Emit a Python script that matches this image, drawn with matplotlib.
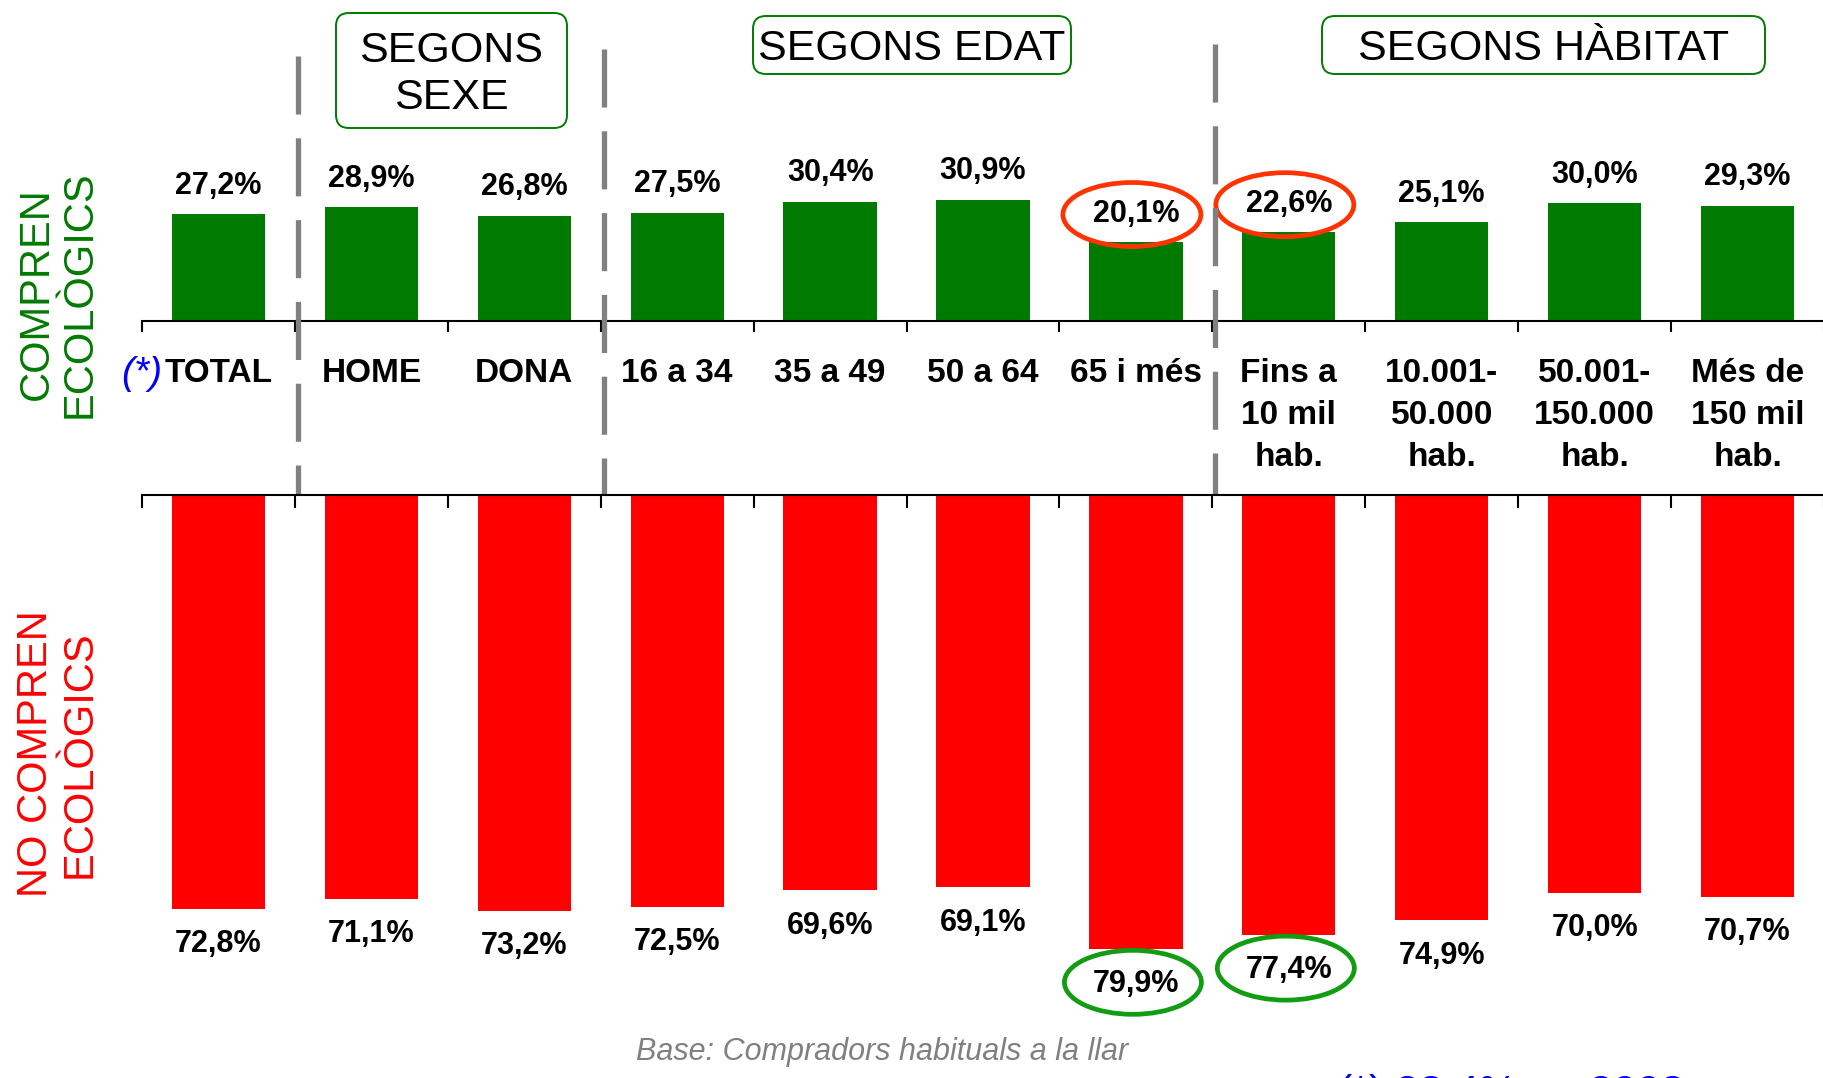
import numpy as np
import matplotlib
matplotlib.use("Agg")
import matplotlib.pyplot as plt
from matplotlib import font_manager
from matplotlib.patches import Ellipse, FancyBboxPatch
from matplotlib.transforms import blended_transform_factory, ScaledTranslation

plt.rcParams['font.family'] = ['Liberation Sans', 'DejaVu Sans']

# data
categories = ["TOTAL", "HOME", "DONA", "16 a 34", "35 a 49", "50 a 64", "65 i més",
              "Fins a\n10 mil\nhab.", "10.001-\n50.000\nhab.", "50.001-\n150.000\nhab.",
              "Més de\n150 mil\nhab."]
compren = [27.2, 28.9, 26.8, 27.5, 30.4, 30.9, 20.1, 22.6, 25.1, 30.0, 29.3]
no_compren = [72.8, 71.1, 73.2, 72.5, 69.6, 69.1, 79.9, 77.4, 74.9, 70.0, 70.7]
highlight_top = [6, 7]      # red circles
highlight_bot = [6, 7]      # green circles
separators = [0.5, 2.5, 6.5]
headers = ["SEGONS\nSEXE", "SEGONS EDAT", "SEGONS HÀBITAT"]


def fmt(v):
    return f"{v:.1f}".replace(".", ",") + "%"


# narrow font if present (labels in the original look condensed)
installed = {f.name for f in font_manager.fontManager.ttflist}
if "Liberation Sans Narrow" in installed:
    NARROW = ["Liberation Sans Narrow", "Liberation Sans"]
    cat_fs, cat_ls, cat_y = 27, 1.39, -0.12
    val_fs = 25
    head_fs, head_ls = 35, 1.14
else:
    NARROW = ["Liberation Sans", "DejaVu Sans"]
    cat_fs, cat_ls, cat_y = 24, 1.45, -0.115
    val_fs = 22
    head_fs, head_ls = 31, 1.25

W, H = 1824, 1078
fig = plt.figure(figsize=(W / 100, H / 100), dpi=100)

GREEN = "#007A00"
RED = "#FF0000"
x = np.arange(len(categories))

# top panel
left = 142 / W
ax_top = fig.add_axes([left, 1 - 321 / H, 1 - left, 321 / H])
ax_top.bar(x, compren, width=0.61, color=GREEN)
ax_top.set_xlim(-0.5, 10.5)
ax_top.set_ylim(0, 321 / 3.93)
for s in ["top", "left", "right"]:
    ax_top.spines[s].set_visible(False)
ax_top.spines["bottom"].set_linewidth(1.5)
ax_top.set_yticks([])
ax_top.set_xticks(np.arange(-0.5, 11, 1))
ax_top.set_xticklabels([])
ax_top.tick_params(axis="x", direction="out", length=8, width=1.5)

# bottom panel
ax_bot = fig.add_axes([left, 0, 1 - left, 1 - 495 / H])
ax_bot.bar(x, no_compren, width=0.61, color=RED)
ax_bot.set_xlim(-0.5, 10.5)
ax_bot.set_ylim(583 / 5.68, 0)
for s in ["bottom", "left", "right"]:
    ax_bot.spines[s].set_visible(False)
ax_bot.spines["top"].set_linewidth(1.5)
ax_bot.set_yticks([])
ax_bot.xaxis.tick_top()
ax_bot.set_xticks(np.arange(-0.5, 11, 1))
ax_bot.set_xticklabels([])
ax_bot.tick_params(axis="x", direction="in", length=9, width=1.5)

# value labels
for i, v in enumerate(compren):
    ax_top.annotate(fmt(v), (i, v), xytext=(0, 20.5), textcoords="offset points",
                    ha="center", va="center", fontsize=val_fs, fontweight="bold", family=NARROW)
for i, v in enumerate(no_compren):
    ax_bot.annotate(fmt(v), (i, v), xytext=(0, -25.5), textcoords="offset points",
                    ha="center", va="center", fontsize=val_fs, fontweight="bold", family=NARROW)

# ellipses around highlighted labels
for i in highlight_top:
    tr = fig.dpi_scale_trans + ScaledTranslation(i, compren[i], ax_top.transData)
    ax_top.add_patch(Ellipse((-0.04, 0.275), 1.38, 0.64, transform=tr, fill=False,
                             edgecolor="#FF3300", lw=3.4, clip_on=False))
for i in highlight_bot:
    tr = fig.dpi_scale_trans + ScaledTranslation(i, no_compren[i], ax_bot.transData)
    ax_bot.add_patch(Ellipse((-0.03, -0.335), 1.37, 0.64, transform=tr, fill=False,
                             edgecolor="#129C12", lw=3.4, clip_on=False))

# category labels
lbl_tr = blended_transform_factory(ax_top.transData, ax_top.transAxes)
for i, c in enumerate(categories):
    ax_top.text(i, cat_y, c, transform=lbl_tr, ha="center", va="top",
                fontsize=cat_fs, fontweight="bold", linespacing=cat_ls, family=NARROW)
ax_top.text(-0.37, -0.165, "(*)", transform=lbl_tr, ha="right", va="center",
            fontsize=28, style="italic", color="#0000FF")

# dashed separators
sep_tr = blended_transform_factory(ax_top.transData, fig.transFigure)
sep_top = [56, 49, 44]
sep_bot = [1078, 1078, 1068]
for xs, t, b in zip(separators, sep_top, sep_bot):
    ax_top.plot([xs + 0.02, xs + 0.02], [1 - t / H, 1 - b / H], transform=sep_tr,
                color="#808080", lw=3.8, dashes=(11, 4.5), clip_on=False, zorder=5)

# header boxes (inches)
boxes = [(3.36, 9.50, 2.31, 1.15), (7.53, 10.04, 3.18, 0.58), (13.22, 10.04, 4.43, 0.58)]
for (bx, by, bw, bh), txt in zip(boxes, headers):
    fig.patches.append(FancyBboxPatch((bx, by), bw, bh, boxstyle="round,pad=0,rounding_size=0.13",
                                      transform=fig.dpi_scale_trans, facecolor="white",
                                      edgecolor=GREEN, lw=1.4))
    fig.text((bx + bw / 2) / (W / 100), (by + bh / 2 - 0.04) / (H / 100), txt,
             ha="center", va="center", fontsize=head_fs, linespacing=head_ls, family=NARROW)

# side labels
fig.text(58 / W, 1 - 294 / H, "COMPREN\nECOLÒGICS", rotation=90, ha="center", va="center",
         fontsize=30, color=GREEN, linespacing=1.1, multialignment="center")
fig.text(58 / W, 1 - 754 / H, "NO COMPREN\nECOLÒGICS", rotation=90, ha="center", va="center",
         fontsize=30, color=RED, linespacing=1.1, multialignment="center")

# notes
fig.text(636 / W, 1 - 1052 / H, "Base: Compradors habituals a la llar", ha="left", va="center",
         fontsize=22, style="italic", color="#808080")
fig.text(1338 / W, 1 - 1074 / H, "(*) 28,4% en 2008", ha="left", va="top",
         fontsize=31, color="#0000FF")

fig.savefig("out.png", dpi=100)
